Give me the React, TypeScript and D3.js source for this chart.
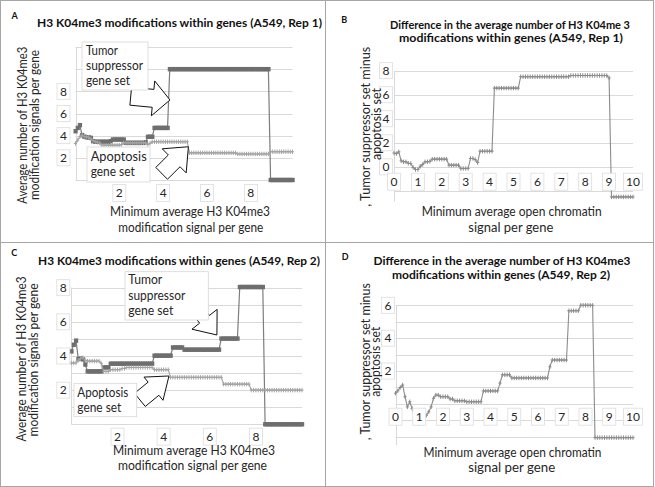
import React from 'react';
import * as d3 from 'd3';

const FONT = 'Lato, "Open Sans", sans-serif';

// Threshold grid (minimum average signal per gene) — category positions of the x axis
const thresholdsA = d3.range(100).map((i) => i / 10);
const thresholds = d3.range(101).map((i) => i / 10);

// Panel A (Rep 1): average number of modification signals per gene
const tumorA = [
  4.4, 4.7, 4.95, 4.05, 3.9, 3.85, 3.85, 3.8, 3.5,
  3.45, 3.45, 3.45, 3.45, 3.45, 3.45, 3.45,
  3.5,
  3.65, 3.65, 3.65, 3.65, 3.65, 3.65,
  3.35, 3.35, 3.35, 3.35, 3.35, 3.35, 3.35, 3.35, 3.35,
  3.4,
  3.9, 3.9, 3.9,
  4.7, 4.7, 4.7, 4.7, 4.7, 4.7, 4.7,
  10, 10, 10, 10, 10, 10, 10, 10, 10, 10,
  10, 10, 10, 10, 10, 10, 10, 10, 10, 10,
  10, 10, 10, 10, 10, 10, 10, 10, 10, 10,
  10, 10, 10, 10, 10, 10, 10, 10, 10, 10,
  10, 10, 10, 10, 10, 10,
  0, 0, 0, 0, 0, 0, 0, 0, 0, 0, 0,
];
const apoptosisA = [
  3.3, 3.6, 3.9, 4.05, 3.9, 3.9, 3.85, 3.7, 3.55, 3.45, 3.4, 3.35,
  3.15, 3.15, 3.15, 3.15, 3.15, 3.15, 3.15, 3.15, 3.15,
  3.2,
  3.35, 3.35, 3.35, 3.35, 3.35, 3.35, 3.35, 3.35, 3.35, 3.35, 3.35,
  3.2, 3.3,
  3.45, 3.45, 3.45, 3.45, 3.45, 3.45, 3.45, 3.45, 3.45, 3.45,
  3.45, 3.45, 3.45, 3.45, 3.45, 3.45, 3.45,
  2.45, 2.45, 2.45, 2.45, 2.45, 2.45, 2.45, 2.45, 2.45, 2.45, 2.45,
  2.45, 2.45, 2.45, 2.45, 2.45, 2.45, 2.45, 2.45, 2.45, 2.45, 2.45,
  2.35, 2.35, 2.35, 2.35, 2.35, 2.35, 2.35, 2.35, 2.35, 2.35,
  2.35, 2.35, 2.35, 2.35, 2.35,
  2.55, 2.55, 2.55, 2.55, 2.55, 2.55, 2.55, 2.55, 2.55, 2.55, 2.55,
];

// Panel B (Rep 1): tumor suppressor minus apoptosis
const differenceB = [
  1.15, 1.1, 1.25, 0.5, 0.42, 0.42, 0.3, 0.28, -0.05, -0.22, -0.22,
  0.05, 0.2, 0.42, 0.42, 0.45,
  0.64, 0.64, 0.64, 0.64, 0.64, 0.64, 0.64,
  0.14, 0.14, 0.14, 0.14, 0.14,
  -0.14, -0.14, -0.14, -0.14,
  0.7, 0.7, 0.6, 0.36,
  1.3, 1.3, 1.3, 1.3, 1.3, 1.3,
  6.55, 6.55, 6.55, 6.55, 6.55, 6.55, 6.55, 6.55, 6.55, 6.55, 6.55,
  7.5, 7.5, 7.5, 7.5, 7.5, 7.5, 7.5, 7.5, 7.5, 7.5, 7.5,
  7.5, 7.5, 7.5, 7.5, 7.5, 7.5, 7.5, 7.5, 7.5, 7.5,
  7.6, 7.6, 7.6, 7.6, 7.6, 7.6, 7.6, 7.6, 7.6, 7.6, 7.6,
  7.6, 7.6, 7.6, 7.6, 7.6,
  7.4,
  -2.5, -2.5, -2.5, -2.5, -2.5, -2.5, -2.5, -2.5, -2.5, -2.5,
];

// Panel C (Rep 2)
const tumorC = [
  4.27, 4.66, 4.9, 3.82, 3.85, 3.8, 3.5,
  3.1, 3.1, 3.1, 3.1, 3.1, 3.1, 3.1,
  3.33, 3.33, 3.33,
  3.55, 3.55, 3.55, 3.55, 3.55, 3.55, 3.55, 3.55, 3.55, 3.55,
  3.55, 3.55, 3.55, 3.55, 3.55, 3.55, 3.55, 3.55, 3.55,
  4.02, 4.02, 4.02, 4.02, 4.02, 4.02, 4.02, 4.02,
  4.5, 4.5, 4.5, 4.5, 4.5,
  4.37, 4.37, 4.37, 4.37, 4.37, 4.37, 4.37, 4.37,
  4.37, 4.37, 4.37, 4.37, 4.37, 4.37, 4.37, 4.37,
  5.02, 5.02, 5.02, 5.02, 5.02, 5.02, 5.02, 5.02,
  8.04, 8.04, 8.04, 8.04, 8.04, 8.04, 8.04, 8.04, 8.04, 8.04, 8.04,
  0, 0, 0, 0, 0, 0, 0, 0, 0, 0, 0, 0, 0, 0, 0, 0, 0,
];
const apoptosisC = [
  3.59, 3.59, 3.6, 3.75, 3.85, 3.9, 3.75,
  3.7, 3.7, 3.7, 3.7, 3.7, 3.7,
  3.55,
  3.1, 3.1, 3.1,
  3.2, 3.2, 3.2, 3.2, 3.2,
  3.27, 3.27,
  3.33, 3.33, 3.33, 3.33, 3.33, 3.33, 3.33, 3.33, 3.33, 3.33, 3.33, 3.33,
  3.2, 3.2, 3.2, 3.2, 3.2, 3.2, 3.2,
  2.75, 2.75, 2.75, 2.75, 2.75, 2.75, 2.75, 2.75, 2.75, 2.75, 2.75, 2.75,
  2.75, 2.75, 2.75, 2.75, 2.75, 2.75, 2.75, 2.75, 2.75, 2.75, 2.75,
  2.35, 2.35, 2.35, 2.35, 2.35, 2.35, 2.35, 2.35, 2.35, 2.35, 2.35, 2.35,
  2.0, 2.0, 2.0, 2.0, 2.0, 2.0, 2.0, 2.0, 2.0, 2.0, 2.0, 2.0,
  2.0, 2.0, 2.0, 2.0, 2.0, 2.0, 2.0, 2.0, 2.0, 2.0, 2.0,
];

// Panel D (Rep 2): difference
const differenceD = [
  0.65, 0.8, 1.0, 1.15, 0.44, -0.18, 0.13, -0.28, -0.79, -1.1, -1.2,
  -1.1, -0.9, -0.7, -0.48, -0.18, 0.34, 0.54, 0.54,
  0.44, 0.44, 0.44, 0.44,
  0.3, 0.3,
  0.19, 0.19, 0.19, 0.19, 0.19,
  0.13, 0.13, 0.13, 0.13, 0.13, 0.13, 0.13,
  0.79, 0.79, 0.79, 0.79, 0.79, 0.79, 0.79,
  1.27,
  1.77, 1.77, 1.77, 1.77,
  1.58, 1.58, 1.58, 1.58, 1.58, 1.58, 1.58, 1.58,
  1.58, 1.58, 1.58, 1.58, 1.58, 1.58, 1.58, 1.58,
  2.26,
  2.67, 2.67, 2.67, 2.67, 2.67, 2.67, 2.67,
  5.67, 5.67, 5.67, 5.67, 5.67,
  6.0, 6.0, 6.0, 6.0, 6.0, 6.0,
  -2.05, -2.05, -2.05, -2.05, -2.05, -2.05, -2.05, -2.05, -2.05,
  -2.05, -2.05, -2.05, -2.05, -2.05, -2.05, -2.05, -2.05,
];

// Tick values
const gridA = [0, 2, 4, 6, 8, 10, 12];
const yTicksA = [2, 4, 6, 8];
const xTicksA = [2, 4, 6, 8];
const gridB = [-2, 0, 2, 4, 6, 8];
const yTicksB = [0, 2, 4, 6, 8];
const xTicksB = [0, 1, 2, 3, 4, 5, 6, 7, 8, 9, 10];
const gridC = [0, 1, 2, 3, 4, 5, 6, 7, 8];
const yTicksC = [2, 4, 6, 8];
const xTicksC = [2, 4, 6, 8];
const gridD = [-2, -1, 0, 1, 2, 3, 4, 5, 6];
const yTicksD = [2, 4, 6];
const xTicksD = [0, 1, 2, 3, 4, 5, 6, 7, 8, 9, 10];

type Pt = [number, number];

function blockArrow(tail: Pt, tip: Pt, shaftW: number, headW: number, headLen: number): string {
  const dx = tip[0] - tail[0];
  const dy = tip[1] - tail[1];
  const L = Math.hypot(dx, dy);
  const ux = dx / L, uy = dy / L;
  const nx = -uy, ny = ux;
  const bx = tip[0] - ux * headLen, by = tip[1] - uy * headLen;
  const p = (cx: number, cy: number, s: number) => `${cx + nx * s},${cy + ny * s}`;
  return [
    p(tail[0], tail[1], shaftW / 2),
    p(bx, by, shaftW / 2),
    p(bx, by, headW / 2),
    `${tip[0]},${tip[1]}`,
    p(bx, by, -headW / 2),
    p(bx, by, -shaftW / 2),
    p(tail[0], tail[1], -shaftW / 2),
  ].join(' ');
}

const TEXT = '#262626';

function Panel({ cfg }: { cfg: any }) {
  const x = d3.scaleLinear().domain(cfg.xDomain).range(cfg.xRange);
  const y = d3.scaleLinear().domain(cfg.yDomain).range(cfg.yRange);
  const [x0, x1] = cfg.xRange;
  const [yb, yt] = cfg.yRange;
  const line = d3.line<Pt>().x((d) => x(d[0])).y((d) => y(d[1]));

  return (
    <g>
      {/* gridlines */}
      {cfg.grid.map((g: number) => (
        <line key={'g' + g} x1={x0} x2={x1} y1={Math.round(y(g)) + 0.5} y2={Math.round(y(g)) + 0.5}
          stroke="#d9d9d9" strokeWidth={1} />
      ))}
      <line x1={Math.round(x0) + 0.5} x2={Math.round(x0) + 0.5} y1={yt} y2={yb} stroke="#d9d9d9" strokeWidth={1} />

      {/* series */}
      {cfg.series.map((s: any, si: number) => {
        const pts: Pt[] = s.xs.map((v: number, i: number) => [v, s.ys[i]] as Pt);
        const col = s.kind === 'tumor' ? '#6e6e6e' : s.kind === 'apop' ? '#a3a3a3' : '#8c8c8c';
        return (
          <g key={'s' + si}>
            <path d={line(pts) || ''} fill="none" stroke={s.kind === 'tumor' ? '#7d7d7d' : col}
              strokeWidth={s.kind === 'tumor' ? 1.2 : 1.1} />
            {pts.map((d, i) => {
              const px = x(d[0]);
              const py = y(d[1]);
              if (s.kind === 'tumor') {
                return <rect key={i} x={px - 2} y={py - 2.2} width={4.2} height={4.4} fill={col} />;
              }
              return (
                <path key={i} d={`M${px - 1.6},${py}h3.2M${px},${py - 2.2}v4.4`} stroke={col}
                  strokeWidth={1} fill="none" />
              );
            })}
          </g>
        );
      })}

      {/* arrows */}
      {cfg.arrows.map((a: any, i: number) => (
        <polygon key={'a' + i}
          points={blockArrow([x(a.tail[0]), y(a.tail[1])], [x(a.tip[0]), y(a.tip[1])], a.shaftW, a.headW, a.headLen)}
          fill="#ffffff" stroke="#111" strokeWidth={1} strokeLinejoin="miter" />
      ))}

      {/* note boxes */}
      {cfg.notes.map((n: any, i: number) => (
        <g key={'n' + i}>
          <rect x={n.box[0]} y={n.box[1]} width={n.box[2]} height={n.box[3]} fill="#fff" stroke="#d6d6d6" strokeWidth={0.8} />
          {n.lines.map((l: any, j: number) => (
            <text key={j} x={n.tx} y={l.y} fontSize={13} fill={TEXT} fontFamily={FONT}
              textLength={l.len} lengthAdjust="spacingAndGlyphs">{l.t}</text>
          ))}
        </g>
      ))}

      {/* y tick labels */}
      {cfg.yTicks.map((t: number) => {
        const w = String(t).length > 1 ? 19 : 13;
        return (
          <g key={'yt' + t}>
            <rect x={cfg.yTickX - w / 2} y={y(t) - 8} width={w} height={16} fill="#fff" stroke="#dcdcdc" strokeWidth={0.8} />
            <text x={cfg.yTickX} y={y(t)} dy="0.36em" textAnchor="middle" fontSize={12} fill={TEXT} fontFamily={FONT}>{t}</text>
          </g>
        );
      })}
      {/* x tick labels */}
      {cfg.xTicks.map((t: number) => {
        const w = String(t).length > 1 ? 19 : 13;
        return (
          <g key={'xt' + t}>
            <rect x={x(t) - w / 2} y={cfg.xTickY - 8.5} width={w} height={17} fill="#fff" stroke="#dcdcdc" strokeWidth={0.8} />
            <text x={x(t)} y={cfg.xTickY} dy="0.36em" textAnchor="middle" fontSize={12} fill={TEXT} fontFamily={FONT}>{t}</text>
          </g>
        );
      })}

      {/* panel letter */}
      <text x={cfg.letter.x} y={cfg.letter.y} fontSize={9} fontWeight={700} fill="#111" fontFamily={FONT}>{cfg.letter.t}</text>
      {/* title */}
      {cfg.title.map((l: any, i: number) => (
        <text key={'t' + i} x={l.x} y={l.y} textAnchor="middle" fontSize={cfg.title.length > 1 ? 11 : 12}
          fontWeight={700} fill="#111"
          fontFamily={FONT} textLength={l.len} lengthAdjust="spacingAndGlyphs">{l.t}</text>
      ))}
      {/* x title */}
      {cfg.xTitle.map((l: any, i: number) => (
        <text key={'xl' + i} x={l.x} y={l.y} textAnchor="middle" fontSize={12.5} fill={TEXT}
          fontFamily={FONT} textLength={l.len} lengthAdjust="spacingAndGlyphs">{l.t}</text>
      ))}
      {/* y title */}
      {cfg.yTitle.map((l: any, i: number) => (
        <text key={'yl' + i} transform={`translate(${l.x},${l.y}) rotate(-90)`} textAnchor="middle" fontSize={12.5}
          fill={TEXT} fontFamily={FONT} textLength={l.len} lengthAdjust="spacingAndGlyphs">{l.t}</text>
      ))}
    </g>
  );
}

const panelA = {
  xDomain: [0, 9.9], xRange: [75.5, 292.5],
  yDomain: [0, 12], yRange: [180, 47],
  grid: gridA, yTicks: yTicksA, yTickX: 63.5, xTicks: xTicksA, xTickY: 193,
  series: [
    { xs: thresholdsA, ys: tumorA, kind: 'tumor' },
    { xs: thresholdsA, ys: apoptosisA, kind: 'apop' },
  ],
  arrows: [
    { tail: [2.52, 7.56], tip: [4.31, 7.22], shaftW: 18, headW: 35, headLen: 17 },
    { tail: [3.93, 0.6], tip: [5.15, 3.0], shaftW: 16.6, headW: 34, headLen: 20 },
  ],
  notes: [
    { box: [82, 42, 66, 48], tx: 86, lines: [
      { t: 'Tumor', y: 55, len: 32 }, { t: 'suppressor', y: 70, len: 57 }, { t: 'gene set', y: 85, len: 44 }] },
    { box: [87, 147, 63, 35], tx: 90.7, lines: [
      { t: 'Apoptosis', y: 160.5, len: 56 }, { t: 'gene set', y: 176, len: 44 }] },
  ],
  letter: { t: 'A', x: 11.5, y: 18.5 },
  title: [{ t: 'H3 K04me3 modifications within genes (A549, Rep 1)', x: 179.5, y: 27, len: 285 }],
  xTitle: [
    { t: 'Minimum average H3 K04me3', x: 190, y: 216, len: 160 },
    { t: 'modification signal per gene', x: 190.8, y: 231.5, len: 145 },
  ],
  yTitle: [
    { t: 'Average number of H3 K04me3', x: 26.5, y: 125.3, len: 157 },
    { t: 'modification signals per gene', x: 38.8, y: 125, len: 150 },
  ],
};

const panelB = {
  xDomain: [0, 10], xRange: [394, 633],
  yDomain: [-2.9, 8], yRange: [201.7, 70.7],
  grid: gridB, yTicks: yTicksB, yTickX: 386, xTicks: xTicksB, xTickY: 181.7,
  series: [{ xs: thresholds, ys: differenceB, kind: 'diff' }],
  arrows: [], notes: [],
  letter: { t: 'B', x: 341.3, y: 22.5 },
  title: [
    { t: 'Difference in the average number of H3 K04me 3', x: 510, y: 28.5, len: 240 },
    { t: 'modifications within genes (A549, Rep 1)', x: 511, y: 42, len: 224 },
  ],
  xTitle: [
    { t: 'Minimum average open chromatin', x: 511.7, y: 216, len: 180 },
    { t: 'signal per gene', x: 510.8, y: 231.5, len: 85 },
  ],
  yTitle: [
    { t: ', Tumor suppressor set minus', x: 369.5, y: 126.7, len: 160 },
    { t: 'apoptosis set', x: 380.5, y: 124, len: 72 },
  ],
};

const panelC = {
  xDomain: [0, 10], xRange: [71.4, 302],
  yDomain: [0, 8], yRange: [424.3, 287.7],
  grid: gridC, yTicks: yTicksC, yTickX: 63.3, xTicks: xTicksC, xTickY: 436.7,
  series: [
    { xs: thresholds, ys: tumorC, kind: 'tumor' },
    { xs: thresholds, ys: apoptosisC, kind: 'apop' },
  ],
  arrows: [
    { tail: [5.22, 7.1], tip: [6.31, 5.23], shaftW: 12.5, headW: 32, headLen: 20 },
    { tail: [2.97, 1.43], tip: [4.23, 2.83], shaftW: 17, headW: 30, headLen: 20 },
  ],
  notes: [
    { box: [125, 271.7, 83.3, 48.3], tx: 128.3, lines: [
      { t: 'Tumor', y: 284.3, len: 34 }, { t: 'suppressor', y: 300, len: 57 }, { t: 'gene set', y: 315, len: 45 }] },
    { box: [74, 383.3, 62.7, 33.4], tx: 77.3, lines: [
      { t: 'Apoptosis', y: 396.7, len: 51 }, { t: 'gene set', y: 411.7, len: 44 }] },
  ],
  letter: { t: 'C', x: 11.3, y: 256 },
  title: [{ t: 'H3 K04me3 modifications within genes (A549, Rep 2)', x: 179, y: 264.5, len: 282 }],
  xTitle: [
    { t: 'Minimum average H3 K04me3', x: 194, y: 455, len: 162 },
    { t: 'modification signal per gene', x: 192.5, y: 470, len: 149 },
  ],
  yTitle: [
    { t: 'Average number of H3 K04me3', x: 26, y: 359, len: 165 },
    { t: 'modification signals per gene', x: 38.3, y: 360, len: 153 },
  ],
};

const panelD = {
  xDomain: [0, 10], xRange: [395.5, 633],
  yDomain: [-2.5, 6], yRange: [445, 305.3],
  grid: gridD, yTicks: yTicksD, yTickX: 388, xTicks: xTicksD, xTickY: 416.7,
  series: [{ xs: thresholds, ys: differenceD, kind: 'diff' }],
  arrows: [], notes: [],
  letter: { t: 'D', x: 341.8, y: 259.5 },
  title: [
    { t: 'Difference in the average number of H3 K04me3', x: 502, y: 265, len: 257 },
    { t: 'modifications within genes (A549, Rep 2)', x: 501, y: 278.5, len: 218 },
  ],
  xTitle: [
    { t: 'Minimum average open chromatin', x: 512.5, y: 457.3, len: 178 },
    { t: 'signal per gene', x: 511.7, y: 472.3, len: 87 },
  ],
  yTitle: [
    { t: ', Tumor suppressor set minus', x: 369.5, y: 361.7, len: 157 },
    { t: 'apoptosis set', x: 379.5, y: 361.7, len: 70 },
  ],
};

export default function App() {
  return (
    <svg width={655} height={487} style={{ position: 'absolute', left: 0, top: 0, background: '#fff' }}>
      <rect x={0} y={0} width={655} height={487} fill="#fff" />
      <Panel cfg={panelA} />
      <Panel cfg={panelB} />
      <Panel cfg={panelC} />
      <Panel cfg={panelD} />
      <rect x={0.5} y={0.5} width={653} height={486} fill="none" stroke="#a6a6a6" strokeWidth={1} />
      <line x1={325.5} x2={325.5} y1={0.5} y2={486.5} stroke="#a6a6a6" strokeWidth={1} />
      <line x1={0.5} x2={653.5} y1={242.5} y2={242.5} stroke="#a6a6a6" strokeWidth={1} />
    </svg>
  );
}
